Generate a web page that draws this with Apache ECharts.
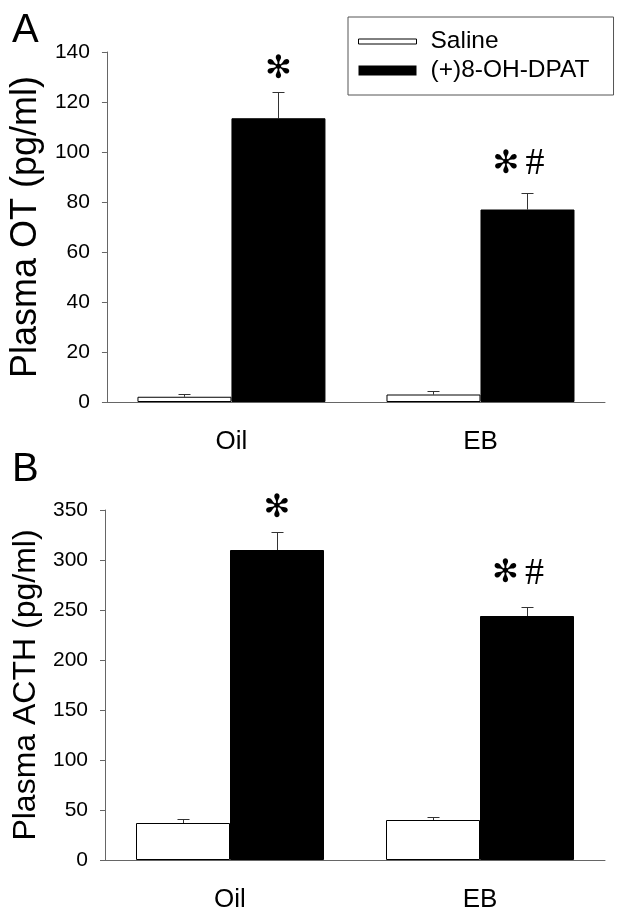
<!DOCTYPE html>
<html><head><meta charset="utf-8">
<script src="https://cdn.jsdelivr.net/npm/echarts@6/dist/echarts.min.js"></script>
<style>html,body{margin:0;padding:0;background:#fff}#c{width:624px;height:919px}</style>
</head><body><div id="c"></div>
<script>
const categories = ['Oil', 'EB'];
const seriesNames = ['Saline', '(+)8-OH-DPAT'];
// Panel A: Plasma OT (pg/ml)
const otSaline = [2.1, 3.0];
const otSalineErr = [1.2, 1.3];
const otDpat = [113.5, 77];
const otDpatErr = [10.5, 6.5];
const otSig = ['*', '*#'];
const otSigY = [133, 95];
const otAxis = {min: 0, max: 140, interval: 20};
// Panel B: Plasma ACTH (pg/ml)
const acthSaline = [37, 40];
const acthSalineErr = [4, 3];
const acthDpat = [310, 244];
const acthDpatErr = [18.5, 9];
const acthSig = ['*', '*#'];
const acthSigY = [351, 286];
const acthAxis = {min: 0, max: 350, interval: 50};

const FONT = 'Liberation Sans, Arial, sans-serif';
const BAR_W = 94;
const AXIS_COLOR = '#666';

function xAxisDef(gi) {
  return {
    type: 'category', gridIndex: gi, data: categories,
    axisLine: {lineStyle: {color: AXIS_COLOR, width: 1}},
    axisTick: {alignWithLabel: true, length: 5, lineStyle: {color: AXIS_COLOR}},
    axisLabel: {fontSize: 26, lineHeight: 26, color: '#000', fontFamily: FONT, margin: 27}
  };
}
function yAxisDef(gi, ax, name, nameSize, gap) {
  return {
    type: 'value', gridIndex: gi, min: ax.min, max: ax.max, interval: ax.interval,
    name: name, nameLocation: 'middle', nameGap: gap,
    nameTextStyle: {fontSize: nameSize, lineHeight: nameSize, color: '#000', fontFamily: FONT},
    axisLine: {show: true, lineStyle: {color: AXIS_COLOR, width: 1}},
    axisTick: {show: true, length: 5, lineStyle: {color: AXIS_COLOR}},
    splitLine: {show: false},
    axisLabel: {fontSize: 21, color: '#000', fontFamily: FONT, margin: 17}
  };
}
function barSeries(gi, name, vals, white) {
  return {
    type: 'bar', name: name, xAxisIndex: gi, yAxisIndex: gi, data: vals,
    barWidth: BAR_W, barGap: '0%',
    itemStyle: white ? {color: '#fff', borderColor: '#000', borderWidth: 1} : {color: '#000', borderColor: '#000', borderWidth: 1},
    emphasis: {disabled: true}, animation: false, z: 2
  };
}
function errSeries(gi, vals, errs, side) {
  return {
    type: 'custom', xAxisIndex: gi, yAxisIndex: gi, z: 1, silent: true, animation: false,
    data: vals.map((v, i) => [i, v, v + errs[i]]),
    renderItem(params, api) {
      const c0 = api.coord([api.value(0), api.value(1)]);
      const c1 = api.coord([api.value(0), api.value(2)]);
      const x = Math.round(c0[0] + side * BAR_W / 2) + 0.5;
      const y1 = Math.round(c1[1]) + 0.5;
      return {type: 'group', children: [
        {type: 'line', shape: {x1: x, y1: c0[1], x2: x, y2: y1}, style: {stroke: '#333', lineWidth: 1}},
        {type: 'line', shape: {x1: x - 6, y1: y1, x2: x + 6, y2: y1}, style: {stroke: '#333', lineWidth: 1}}
      ]};
    }
  };
}
function sigSeries(gi, sig, ys) {
  return {
    type: 'custom', xAxisIndex: gi, yAxisIndex: gi, z: 5, silent: true, animation: false,
    data: ys.map((y, i) => [i, y]),
    renderItem(params, api) {
      const c = api.coord([api.value(0), api.value(1)]);
      const s = sig[params.dataIndex];
      const txt = s.split('').map(ch => ch === '*' ? '{a|\u273B}' : '{h|#}').join('');
      return {type: 'text', x: c[0] + BAR_W / 2 + (s.length > 1 ? -9 : 0), y: c[1],
        style: {text: txt, align: 'center', verticalAlign: 'middle',
          rich: {
            a: {fontSize: 32, fontFamily: 'DejaVu Sans', fill: '#000', lineHeight: 34},
            h: {fontSize: 38, fontFamily: 'Liberation Serif, serif', fill: '#000', lineHeight: 34, padding: [0, 0, 0, 6]}
          }}};
    }
  };
}

const chart = echarts.init(document.getElementById('c'), null, {renderer: 'canvas'});
chart.setOption({
  backgroundColor: '#fff',
  animation: false,
  textStyle: {fontFamily: FONT},
  grid: [
    {left: 105, top: 52, width: 500, height: 350},
    {left: 105, top: 510, width: 500, height: 350}
  ],
  legend: {
    orient: 'vertical', left: 348, top: 17,
    padding: [12, 24, 12, 10], itemGap: 4,
    itemWidth: 58, itemHeight: 10,
    borderColor: '#555', borderWidth: 1,
    textStyle: {fontSize: 24.5, lineHeight: 24, color: '#000', fontFamily: FONT, padding: [0, 0, 0, 9]},
    data: [
      {name: seriesNames[0], icon: 'path://M0,0M0,2.5L58,2.5L58,7.5L0,7.5ZM58,10', itemStyle: {color: '#fff', borderColor: '#000', borderWidth: 1}},
      {name: seriesNames[1], icon: 'rect', itemStyle: {color: '#000', borderColor: '#000', borderWidth: 0}}
    ],
    selectedMode: false
  },
  graphic: [
    {type: 'text', left: 12, top: 11, style: {text: 'A', fontSize: 40, fontFamily: FONT, fill: '#000'}},
    {type: 'text', left: 12, top: 450, style: {text: 'B', fontSize: 40, fontFamily: FONT, fill: '#000'}}
  ],
  xAxis: [xAxisDef(0), xAxisDef(1)],
  yAxis: [yAxisDef(0, otAxis, 'Plasma OT (pg/ml)', 36, 61), yAxisDef(1, acthAxis, 'Plasma ACTH (pg/ml)', 32, 63)],
  series: [
    barSeries(0, seriesNames[0], otSaline, true),
    barSeries(0, seriesNames[1], otDpat, false),
    errSeries(0, otSaline, otSalineErr, -1),
    errSeries(0, otDpat, otDpatErr, 1),
    sigSeries(0, otSig, otSigY),
    barSeries(1, seriesNames[0], acthSaline, true),
    barSeries(1, seriesNames[1], acthDpat, false),
    errSeries(1, acthSaline, acthSalineErr, -1),
    errSeries(1, acthDpat, acthDpatErr, 1),
    sigSeries(1, acthSig, acthSigY)
  ]
});
</script></body></html>
